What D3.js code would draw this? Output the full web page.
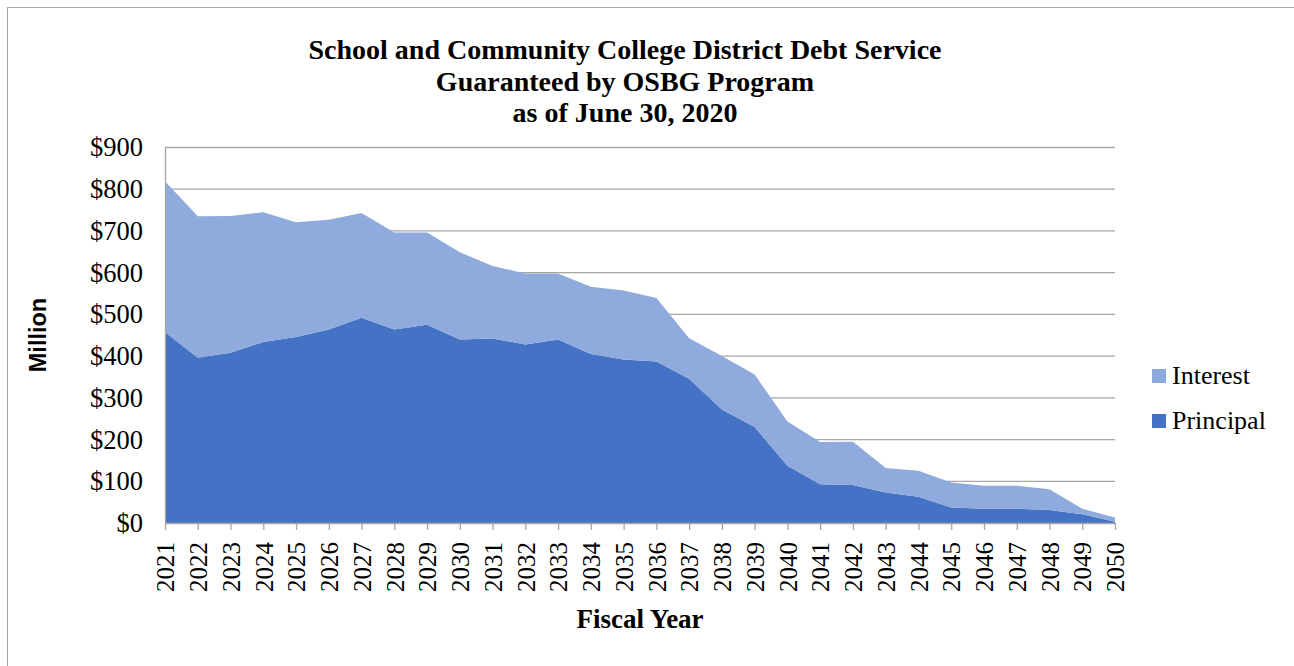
<!DOCTYPE html>
<html>
<head>
<meta charset="utf-8">
<script src="https://cdn.jsdelivr.net/npm/d3@7"></script>
<style>
  body { margin: 0; background: #fff; }
  svg { display: block; }
</style>
</head>
<body>
<svg></svg>
<script>
const width = 1294
const height = 666

// data, millions of dollars
const years = d3.range(2021, 2051)
const principal = [458, 396, 408, 434, 446, 464, 492, 464, 475, 440,
                   442, 428, 440, 405, 392, 387, 346, 272, 230, 137,
                   93, 91, 73, 63, 37, 34, 34, 31, 21, 3]
const interest = [361, 339, 328, 311, 275, 263, 251, 232, 221, 209,
                  174, 170, 158, 161, 165, 152, 97, 128, 126, 106,
                  101, 104, 59, 62, 60, 55, 55, 50, 13, 10]
const yTicks = [0, 100, 200, 300, 400, 500, 600, 700, 800, 900]
const seriesNames = ["Principal", "Interest"]
const colors = { Principal: "#4472C4", Interest: "#8FAADC" }
const titleLines = ["School and Community College District Debt Service",
                    "Guaranteed by OSBG Program",
                    "as of June 30, 2020"]

const rows = years.map((y, i) => ({ year: y, Principal: principal[i], Interest: interest[i] }))

const svg = d3.select('svg')
  .attr('width', width)
  .attr('height', height)

const serif = "'Liberation Serif', 'Times New Roman', serif"

// outer border (only top and left edges fall inside the picture)
svg.append("rect")
  .attr("x", 7.5).attr("y", 7.5)
  .attr("width", width + 20).attr("height", height + 20)
  .attr("fill", "none")
  .attr("stroke", "#A6A6A6")
  .attr("stroke-width", 1)

const margin = { left: 165, right: 1115, top: 147.5, bottom: 523 }

const x = d3.scaleLinear()
  .domain([2021, 2050])
  .range([margin.left, margin.right])

const y = d3.scaleLinear()
  .domain([0, 900])
  .range([margin.bottom, margin.top])

// gridlines
svg.append("g")
  .selectAll("line")
  .data(yTicks.filter(d => d > 0))
  .enter()
  .append("line")
  .attr("x1", margin.left)
  .attr("x2", margin.right)
  .attr("y1", d => y(d))
  .attr("y2", d => y(d))
  .style("stroke", "#A6A6A6")
  .attr("stroke-width", 1.3)

// stacked areas
const stack = d3.stack().keys(seriesNames)
const layers = stack(rows)

const area = d3.area()
  .x(d => x(d.data.year))
  .y0(d => y(d[0]))
  .y1(d => y(d[1]))

svg.append("g")
  .selectAll("path")
  .data(layers)
  .enter()
  .append("path")
  .attr("d", area)
  .attr("fill", d => colors[d.key])

// y axis
const yAxis = d3.axisLeft(y)
  .tickValues(yTicks)
  .tickFormat(d => "$" + d)
  .tickSize(0)
  .tickPadding(22)

const gy = svg.append("g")
  .attr("transform", `translate(${margin.left},0)`)
  .call(yAxis)
gy.select(".domain").attr("stroke", "#A6A6A6").attr("stroke-width", 1.3)
gy.selectAll("text")
  .attr("font-family", serif)
  .attr("font-size", 26.5)
  .attr("fill", "#000")

// x axis
const xAxis = d3.axisBottom(x)
  .tickValues(years)
  .tickFormat(d => String(d))
  .tickSize(7)
  .tickSizeOuter(0)

const gx = svg.append("g")
  .attr("transform", `translate(0,${margin.bottom})`)
  .call(xAxis)
gx.select(".domain").attr("stroke", "#A6A6A6").attr("stroke-width", 1.3)
gx.selectAll(".tick line").attr("stroke", "#A6A6A6").attr("stroke-width", 1.3)
gx.selectAll("text")
  .attr("font-family", serif)
  .attr("font-size", 25)
  .attr("fill", "#000")
  .attr("transform", "rotate(-90)")
  .attr("text-anchor", "end")
  .attr("dy", "0.35em")
  .attr("x", -19)
  .attr("y", 0)

// title
svg.append("g")
  .selectAll("text")
  .data(titleLines)
  .enter()
  .append("text")
  .attr("x", 625)
  .attr("y", (d, i) => 59 + i * 31.5)
  .attr("text-anchor", "middle")
  .attr("font-family", serif)
  .attr("font-weight", "bold")
  .attr("font-size", 28)
  .text(d => d)

// axis titles
svg.append("text")
  .attr("transform", "translate(46,335) rotate(-90)")
  .attr("text-anchor", "middle")
  .attr("font-family", "'Liberation Sans', Arial, sans-serif")
  .attr("font-weight", "bold")
  .attr("font-size", 23.5)
  .text("Million")

svg.append("text")
  .attr("x", 640)
  .attr("y", 628)
  .attr("text-anchor", "middle")
  .attr("font-family", serif)
  .attr("font-weight", "bold")
  .attr("font-size", 27)
  .text("Fiscal Year")

// legend
const legend = svg.append("g")
  .selectAll("g")
  .data(["Interest", "Principal"])
  .enter()
  .append("g")
  .attr("transform", (d, i) => `translate(1152,${369 + i * 45})`)

legend.append("rect")
  .attr("width", 14)
  .attr("height", 14)
  .attr("fill", d => colors[d])

legend.append("text")
  .attr("x", 20)
  .attr("y", 15)
  .attr("font-family", serif)
  .attr("font-size", 26)
  .text(d => d)
</script>
</body>
</html>
